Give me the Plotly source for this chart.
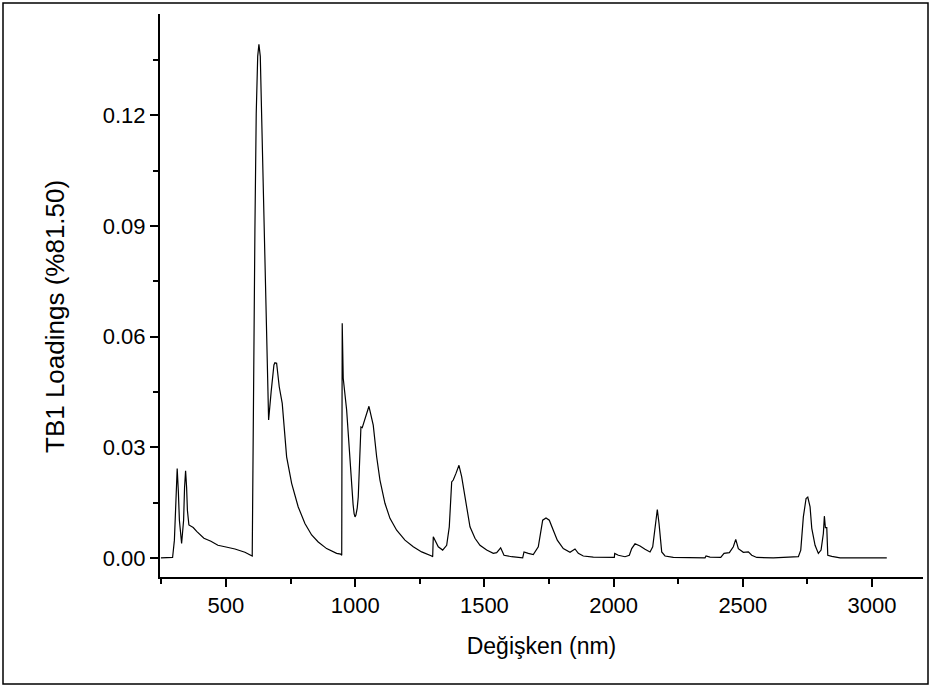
import plotly.graph_objects as go

wavelength = [248.5, 293.7, 300.7, 306, 311.5, 316, 320, 328.6, 336.3, 340, 344.0, 348, 351, 356.8,
              373.5, 387.8, 399.4, 414.9, 442, 469, 496, 535, 573.5, 598, 601.8,
              612.2, 617.3, 623, 627.7, 633, 638.2, 647, 665.2, 675, 685.8, 689.6, 696.2, 706.3, 717.9,
              734.9, 754.3, 779.8, 805.7, 831.7, 857.2, 889.7, 928.4, 943.9, 948.1, 950, 953.9,
              967.1, 979.9, 986, 992, 996, 999.5, 1003, 1008, 1012, 1017, 1022.4, 1027.5, 1037.9, 1053.4,
              1070, 1083.2, 1096,
              1115.3, 1134.7, 1160.6, 1192.7, 1224.9, 1257.4, 1274, 1296, 1300, 1302.3, 1321.6,
              1338.6, 1354.1, 1364.2, 1373.5, 1379.6, 1390.1, 1401.7, 1412.1, 1418.3, 1431.5, 1444.3,
              1463.6, 1483, 1508.9, 1534.4, 1547.6, 1563, 1575.9, 1605.7, 1648.2, 1653.3, 1669.9,
              1689.2, 1708.6, 1719, 1725.6, 1738.4, 1751.2, 1766.6, 1782.1, 1805.3, 1831.3, 1850.6,
              1863.4, 1882.7, 1921.4, 2002.7, 2004.3, 2018.2, 2044.1, 2060.8, 2070, 2082.8, 2102.2,
              2121.5, 2140.9, 2151.3, 2160.2, 2169.1, 2175.7, 2186.1, 2198.9, 2231, 2353.7, 2357.6,
              2373, 2414.5, 2427.2, 2447.8, 2463.2, 2472.5, 2482.6, 2501.9, 2521.3, 2534.4, 2553.8,
              2618, 2714.8, 2724.1, 2734.1, 2744.6, 2751.2, 2760.1, 2766.7, 2779.4, 2792.2, 2802.6,
              2811.5, 2815.4, 2819.3, 2824.7, 2828.6, 2844.1, 2876.2, 3056.9]

loadings = [0.0, 0.0001, 0.0048, 0.017, 0.0242, 0.018, 0.0102, 0.0039, 0.0102, 0.019, 0.0236, 0.019, 0.0129, 0.0089,
            0.0082, 0.0071, 0.0062, 0.0053, 0.0045, 0.0034, 0.0030, 0.0024, 0.0015, 0.00065, 0.0005,
            0.0889, 0.1206, 0.136, 0.1393, 0.136, 0.1206, 0.0889, 0.0374, 0.045, 0.0523, 0.0529, 0.0528, 0.0464, 0.0419,
            0.0274, 0.0202, 0.0138, 0.0093, 0.0062, 0.0043, 0.0025, 0.0012, 0.0010, 0.0007, 0.0636, 0.0487,
            0.0401, 0.0265, 0.0195, 0.0145, 0.0120, 0.0111, 0.0116, 0.0135, 0.0165, 0.0240, 0.0355, 0.0353, 0.0374, 0.0411,
            0.0360, 0.0274, 0.0211,
            0.0148, 0.0107, 0.0075, 0.0048, 0.0030, 0.0016, 0.0012, 0.0005, 0.0003, 0.0057, 0.0030,
            0.0021, 0.0034, 0.0084, 0.0206, 0.0211, 0.0229, 0.0251, 0.0220, 0.0193, 0.0129, 0.0084,
            0.0053, 0.0034, 0.0021, 0.0012, 0.0014, 0.0027, 0.0007, 0.0003, 0.0, 0.0016, 0.0012,
            0.0009, 0.0030, 0.0080, 0.0102, 0.0108, 0.0102, 0.0075, 0.0048, 0.0025, 0.0015, 0.0024,
            0.0012, 0.0005, 0.0002, 0.0001, 0.0012, 0.0007, 0.0003, 0.0007, 0.0025, 0.0038, 0.0032,
            0.0023, 0.0016, 0.0030, 0.0075, 0.0131, 0.0093, 0.0016, 0.0005, 0.0001, 0.0, 0.0005,
            0.0002, 0.0001, 0.0012, 0.0014, 0.0030, 0.0050, 0.0025, 0.0015, 0.0016, 0.0007, 0.0001,
            0.0, 0.0003, 0.0021, 0.0111, 0.0161, 0.0165, 0.0138, 0.0080, 0.0034, 0.0012, 0.0021,
            0.0066, 0.0113, 0.0082, 0.0082, 0.0007, 0.0004, 0.0, 0.0]

x_title = "Değişken (nm)"
y_title = "TB1 Loadings (%81.50)"

fig = go.Figure()
fig.add_trace(go.Scatter(x=wavelength, y=loadings, mode="lines",
                         line=dict(color="black", width=1.2), showlegend=False))

font_family = "Liberation Sans, Arial, sans-serif"
L, R, T, B = 160, 9, 14, 112
W, H = 932, 689
pw, ph = W - L - R, H - T - B

fig.update_layout(
    width=W, height=H,
    margin=dict(l=L, r=R, t=T, b=B),
    paper_bgcolor="white", plot_bgcolor="white",
    font=dict(family=font_family, color="black", size=22),
    xaxis=dict(range=[245, 3197], tickmode="linear", tick0=500, dtick=500,
               ticks="outside", ticklen=8, tickwidth=2, tickcolor="black",
               showline=True, linecolor="black", linewidth=2,
               showgrid=False, zeroline=False,
               minor=dict(ticks="outside", ticklen=5, tickwidth=2, tickcolor="black", dtick=250, tick0=250),
               tickfont=dict(size=22),
               title=dict(text=x_title, font=dict(size=23), standoff=20)),
    yaxis=dict(range=[-0.0052, 0.1475], tickmode="linear", tick0=0, dtick=0.03,
               tickformat=".2f",
               ticks="outside", ticklen=8, tickwidth=2, tickcolor="black",
               showline=True, linecolor="black", linewidth=2,
               showgrid=False, zeroline=False,
               minor=dict(ticks="outside", ticklen=5, tickwidth=2, tickcolor="black", dtick=0.015, tick0=0),
               tickfont=dict(size=22)),
)

fig.add_annotation(text=y_title, textangle=-90, showarrow=False,
                   xref="paper", yref="paper",
                   x=(55 - L) / pw, y=(H - B - 317) / ph,
                   xanchor="center", yanchor="middle",
                   font=dict(size=26, family=font_family, color="black"))

# outer frame around the whole picture
fig.add_shape(type="rect", xref="paper", yref="paper",
              x0=(3 - L) / pw, x1=(928 - L) / pw,
              y0=(H - B - 684) / ph, y1=(H - B - 3) / ph,
              line=dict(color="black", width=1.5), fillcolor="rgba(0,0,0,0)", layer="above")

fig.write_html("out.html")
